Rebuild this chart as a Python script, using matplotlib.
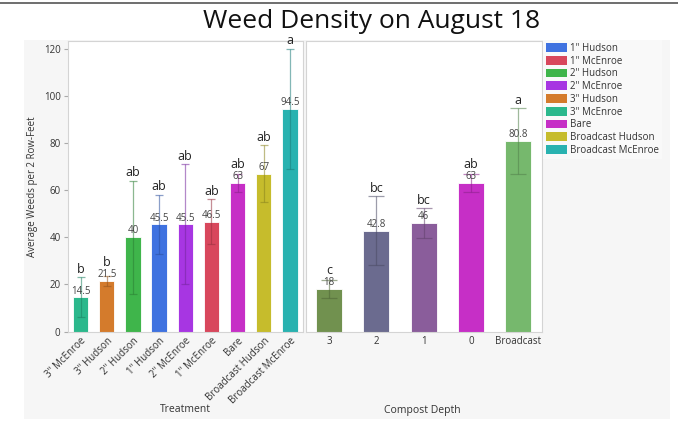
import numpy as np
import matplotlib.pyplot as plt
from matplotlib.patches import Rectangle, Patch
from matplotlib.lines import Line2D
import matplotlib.colors as mcolors

plt.rcParams['font.family'] = ['Open Sans', 'DejaVu Sans']

# data: treatment panel
treatments = ['3" McEnroe', '3" Hudson', '2" Hudson', '1" Hudson', '2" McEnroe',
              '1" McEnroe', 'Bare', 'Broadcast Hudson', 'Broadcast McEnroe']
treat_means = [14.5, 21.5, 40, 45.5, 45.5, 46.5, 63, 67, 94.5]
treat_err = [8.5, 2, 24, 12.5, 25.5, 9.5, 4, 12, 25.5]
treat_letters = ['b', 'b', 'ab', 'ab', 'ab', 'ab', 'ab', 'ab', 'a']
treat_colors = ['#2bb88c', '#d47b2c', '#3fb54b', '#3f72e0', '#a736e2',
                '#d8475c', '#c62fc6', '#c6bc2c', '#29b2b0']

# data: compost depth panel
depths = ['3', '2', '1', '0', 'Broadcast']
depth_means = [18, 42.8, 46, 63, 80.8]
depth_labels = ['18', '42.8', '46', '63', '80.8']
depth_err = [4, 14.5, 6.4, 4, 14]
depth_letters = ['c', 'bc', 'bc', 'ab', 'a']
depth_colors = ['#71914f', '#6b6b8f', '#8a5d9b', '#c62fc6', '#76b86d']

# legend order
legend_names = ['1" Hudson', '1" McEnroe', '2" Hudson', '2" McEnroe', '3" Hudson',
                '3" McEnroe', 'Bare', 'Broadcast Hudson', 'Broadcast McEnroe']

fig = plt.figure(figsize=(6.78, 4.25), dpi=100)
fig.patch.set_facecolor('white')
W, H = 678.0, 425.0

# grey report panel and top rule
fig.patches.append(Rectangle((24 / W, 1 - 419 / H), 646 / W, 379 / H,
                             transform=fig.transFigure, facecolor='#f6f6f6',
                             edgecolor='none', zorder=-5))
fig.add_artist(Line2D([0, 1], [1 - 3 / H, 1 - 3 / H], transform=fig.transFigure,
                      color='#555555', lw=1.2))

bottom = 1 - 331.5 / H
height = (331.5 - 41) / H
ax1 = fig.add_axes([67.5 / W, bottom, (303 - 67.5) / W, height])
ax2 = fig.add_axes([305.5 / W, bottom, (542 - 305.5) / W, height], sharey=ax1)

ymax = 123.2


def darker(c, f=0.7):
    r, g, b = mcolors.to_rgb(c)
    return (r * f, g * f, b * f)


def draw_panel(ax, names, means, errs, letters, colors, width, cap, vlabels=None):
    x = np.arange(len(names))
    ax.bar(x, means, width=width, color=colors, edgecolor='white', linewidth=0.6, zorder=2)
    for i in range(len(names)):
        ax.errorbar(x[i], means[i], yerr=errs[i], fmt='none', ecolor=darker(colors[i]),
                    alpha=0.55, elinewidth=0.9, capsize=cap, capthick=0.9, zorder=3)
        lab = vlabels[i] if vlabels else ('%g' % means[i])
        ax.text(x[i], means[i] + 0.3, lab, ha='center', va='bottom', fontsize=7,
                color='#444444', zorder=4)
        top = max(means[i] + errs[i], means[i] + 4.5)
        ax.text(x[i], top + 0.6, letters[i], ha='center', va='bottom',
                fontsize=9, color='#222222', zorder=4, clip_on=False)
    ax.set_xlim(-0.5, len(names) - 0.5)
    ax.set_ylim(0, ymax)
    ax.set_facecolor('white')
    for s in ax.spines.values():
        s.set_color('#d4d4d4')
        s.set_linewidth(0.8)
    ax.set_xticks(x)
    ax.tick_params(axis='x', length=0, pad=3, labelsize=7, labelcolor='#333333')


draw_panel(ax1, treatments, treat_means, treat_err, treat_letters, treat_colors, 0.58, 3)
draw_panel(ax2, depths, depth_means, depth_err, depth_letters, depth_colors, 0.55, 6,
           depth_labels)

ax1.set_xticklabels(treatments, rotation=45, ha='right', rotation_mode='anchor')
ax2.set_xticklabels(depths)
ax1.set_yticks(np.arange(0, 121, 20))
ax1.tick_params(axis='y', length=3, color='#aaaaaa', labelsize=7, labelcolor='#333333', pad=2)
ax2.tick_params(axis='y', left=False, labelleft=False)

fig.text(33 / W, 1 - 187 / H, 'Average Weeds per 2 Row-Feet', rotation=90,
         ha='center', va='center', fontsize=7, color='#333333')
fig.text(185 / W, 1 - 410 / H, 'Treatment', ha='center', va='center', fontsize=7.5,
         color='#333333')
fig.text(422 / W, 1 - 410 / H, 'Compost Depth', ha='center', va='center', fontsize=7.5,
         color='#333333')
fig.text(372 / W, 1 - 22 / H, 'Weed Density on August 18', ha='center', va='center',
         fontsize=19, color='#111111')

cmap = dict(zip(treatments, treat_colors))
handles = [Patch(facecolor=cmap[n], edgecolor='none') for n in legend_names]
leg = fig.legend(handles, legend_names, loc='upper left', bbox_to_anchor=(543 / W, 1 - 40 / H),
                 frameon=True, fontsize=7, handlelength=2.2, handleheight=1.0,
                 handletextpad=0.3, labelspacing=0.18, borderpad=0.3, borderaxespad=0)
leg.get_frame().set_facecolor('#fbfbfb')
leg.get_frame().set_edgecolor('none')
leg.get_frame().set_boxstyle('square', pad=0)
for t in leg.get_texts():
    t.set_color('#333333')

fig.savefig('out.png', dpi=100, facecolor='white')
